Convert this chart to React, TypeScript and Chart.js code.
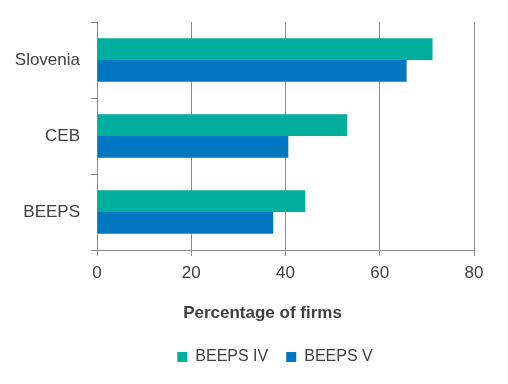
import React, { useEffect, useRef } from "react";
import { Chart, registerables } from "chart.js";

Chart.register(...registerables);

const categories = ["Slovenia", "CEB", "BEEPS"];
const beepsIV = [71.2, 53.1, 44.2];
const beepsV = [65.7, 40.6, 37.4];
const seriesNames = ["BEEPS IV", "BEEPS V"];
const xTicks = [0, 20, 40, 60, 80];
const xTitle = "Percentage of firms";

const FONT = "'Liberation Sans', Arial, sans-serif";
const TEXT = "#404040";
const GRID = "#8c8c8c";

const titlePlugin = {
  id: "axisTitleCustom",
  beforeDraw(chart: any) {
    const lg = chart.legend;
    if (lg && !lg._shifted) {
      lg.left += 38;
      lg.right += 38;
      lg._shifted = true;
    }
  },
  afterDraw(chart: any) {
    const { ctx, chartArea } = chart;
    ctx.save();
    ctx.font = `bold 17px ${FONT}`;
    ctx.fillStyle = TEXT;
    ctx.textAlign = "center";
    ctx.textBaseline = "middle";
    ctx.fillText(xTitle, (chartArea.left + chartArea.right) / 2 - 23, chartArea.bottom + 63);
    ctx.restore();
  },
};

export default function App() {
  const ref = useRef<HTMLCanvasElement | null>(null);
  useEffect(() => {
    if (!ref.current) return;
    const chart = new Chart(ref.current, {
      type: "bar",
      data: {
        labels: categories,
        datasets: [
          { label: seriesNames[0], data: beepsIV, backgroundColor: "#00AE9D", borderWidth: 0 },
          { label: seriesNames[1], data: beepsV, backgroundColor: "#0077C0", borderWidth: 0 },
        ],
      },
      plugins: [titlePlugin],
      options: {
        indexAxis: "y",
        animation: false,
        responsive: false,
        maintainAspectRatio: false,
        layout: { padding: { left: 0, right: 34, top: 22, bottom: 9 } },
        datasets: { bar: { categoryPercentage: 0.57, barPercentage: 1 } },
        scales: {
          x: {
            min: xTicks[0],
            max: xTicks[xTicks.length - 1],
            afterBuildTicks: (s: any) => {
              s.ticks = xTicks.map((v) => ({ value: v }));
            },
            afterFit: (s: any) => {
              s.height = 81;
            },
            grid: { color: GRID, lineWidth: 1, drawTicks: true, tickLength: 6 },
            border: { display: true, color: GRID, width: 1 },
            ticks: { color: TEXT, font: { family: FONT, size: 17 }, padding: 7 },
          },
          y: {
            afterFit: (s: any) => {
              s.width = 97;
            },
            grid: { display: true, drawOnChartArea: false, drawTicks: true, tickLength: 6, color: GRID, offset: true },
            border: { display: true, color: GRID, width: 1 },
            ticks: { color: TEXT, font: { family: FONT, size: 17 }, padding: 11 },
          },
        },
        plugins: {
          legend: {
            position: "bottom",
            labels: {
              boxWidth: 10,
              boxHeight: 10,
              color: TEXT,
              font: { family: FONT, size: 16 },
              padding: 18,
            },
          },
          tooltip: { enabled: false },
        },
      },
    });
    return () => chart.destroy();
  }, []);
  return (
    <div style={{ position: "fixed", left: 0, top: 0, width: 508, height: 384, background: "#fff" }}>
      <canvas ref={ref} width={508} height={384} style={{ width: 508, height: 384 }} />
    </div>
  );
}
